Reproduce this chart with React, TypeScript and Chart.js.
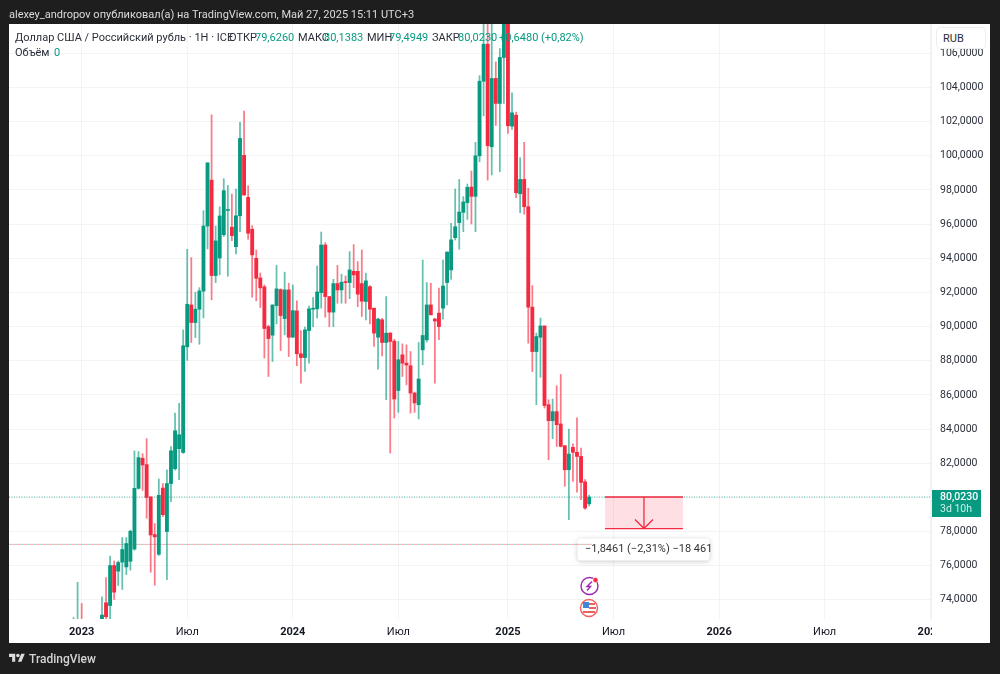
import React, { useEffect, useRef } from 'react';
import { Chart, registerables } from 'chart.js';

Chart.register(...registerables);

// weekly candles, week 0 is the first bar of 2023
const firstWeek = -2;
const opens = [71.9,72.3,70.5,70.2,69,68.9,70,72.1,73.83,73.67,76.01,75.68,76.21,75.93,76.26,76.98,80.53,82.29,81.92,80.03,77.82,76.67,80.55,78,80.81,81.68,82.85,82.63,88.82,91.27,90.24,91.02,92.08,95.89,98.58,92.99,94.02,95.38,96.8,95.82,94.68,96.49,100.03,97.57,95.7,94,92.85,92.33,90,89.5,91.23,92.17,90.47,92.15,89.38,90.92,88.41,88.19,89.77,91.02,91.04,91.99,94.78,91.76,90.85,92.52,92.15,92.62,92.58,93.24,93.24,92.52,91.47,92.34,91.08,89.38,90.4,89.07,89.62,89.15,86.26,88.35,87.86,87.71,86.11,85.43,88.64,89.23,91.27,90.45,90.79,91.08,92.58,93.32,95.21,96.09,96.69,97.26,98.17,97.63,100,104.37,106.54,100.53,104.53,103.07,105.76,109,101.74,102.38,97.78,98.62,97.02,91.14,88.54,89.38,90.04,85.43,84.49,85.02,84.3,83.03,81.62,82.93,82.64,82.4,80.91,79.626];
const highs = [72.97,75.03,73.79,70.9,69.6,70.5,72.3,74.18,75.31,76.56,76.28,76.28,77.65,77.65,78.08,82.72,82.68,82.56,83.44,80.03,78.47,81.08,80.81,81.62,82.98,84.94,85.51,89.81,94.53,94.04,92.01,92.28,96.79,99.59,102.4,95.89,97.02,98.66,98.27,97.76,98.06,101.96,102.62,98.25,95.91,94.49,93.14,92.44,90.08,91.27,93.59,92.21,93.19,92.54,92.44,91.51,89.77,89.97,91.21,91.7,93.55,95.54,94.92,91.76,92.77,93.59,93.07,92.97,94.39,94.8,93.81,94.49,93.13,92.4,91.08,90.5,90.48,91.76,89.66,89.26,89.13,88.99,88.93,88.54,86.17,89.07,93.9,92.58,92.54,90.48,92.25,93.9,94.37,96.05,98.06,98.62,97.61,98.35,99.11,100.79,104.7,108.5,108.5,108.3,105.5,106.28,112,113,103.69,102.56,99.89,100.79,98.1,92.4,89.62,90.5,90.04,85.72,85.76,86.54,87.2,83.03,84,83.13,84.66,82.89,81.04,80.1383];
const lows = [71.5,71.8,69.5,68.5,68,68.5,69.8,71.9,72.8,72.8,74.02,74.84,74.61,75.48,75.74,76.9,80.48,80.41,78.78,75.62,74.86,76.6,78.88,75.18,79.75,81.6,81.04,82.58,88.02,89.07,89.36,88.97,90.51,94.55,91.57,92.58,93.03,95.28,92.95,95.03,94.26,95.56,97.68,95.11,91.72,91.51,91.12,88.16,87.08,87.96,90.16,88.6,89.52,88.25,89.38,87.71,86.69,87.37,87.86,90,90.5,91.08,90.55,90,90,91.37,91.37,91.37,91.64,92.28,91.17,90.59,90.39,90.16,88.84,87.51,88.29,85.72,82.6,84.65,84.98,87.08,86.59,84.94,84.98,84.59,87.76,89.1,90.69,86.69,89.23,90.44,91.27,92.77,95.07,94.53,95.56,96.28,96.01,95.56,99.65,102.34,98.58,98.88,101.78,99.07,103.07,101.31,101.55,97.55,96.67,96.58,89.03,87.37,85.43,87.03,85.23,82.21,83.44,82.98,82.95,80.65,78.7,80.94,80.3,79.87,79.3,79.4949];
const closes = [72.3,72.6,70.2,69,68.9,70,72.1,73.11,73.01,76.01,74.45,76.19,76.95,77.3,78.02,80.53,82.33,81.9,80,77.8,77.69,80.12,78.99,80.81,82.73,83.9,83.67,88.88,91.31,90.24,91.02,92.09,95.89,99.59,92.99,95.02,96.48,97.96,96.86,95.33,96.49,101.02,97.71,95.47,94.2,92.83,92.27,89.89,89.3,91.27,92.21,90.65,92.15,89.38,90.94,88.41,88.19,89.81,91.04,91.06,92.03,94.78,91.76,90.85,92.52,92.15,92.6,92.58,93.32,93.03,91.9,91.49,92.68,91.02,89.62,90.44,89.07,89.62,89.13,85.76,88.06,87.86,87.75,86.11,85.53,86.93,89.48,91.27,90.69,90.33,90,92.38,94.37,95.08,95.85,96.71,97.3,98.16,97.63,100,104.37,106.54,100.59,104.53,103.07,105.76,109,101.76,102.52,97.84,98.62,97.02,91.14,88.54,89.42,90.04,85.38,84.49,85.02,84.26,82.99,81.62,82.54,82.64,82.4,80.88,79.38,80.023];

const yTicks = [74,76,78,80,82,84,86,88,90,92,94,96,98,100,102,104,106];
const xTickWeeks = [0,26,52,78,105,131,157,183,209];
const xTickLabels = ['2023','Июл','2024','Июл','2025','Июл','2026','Июл','2027'];
const yearLabels = ['2023','2024','2025','2026','2027'];

const lastClose = 80.023;
const prevLevel = 77.25;
const toolTop = 80.023;
const toolBottom = 78.1769;
const toolFromWeek = 128.9;
const toolToWeek = 148.1;

const GREEN = '#089A80';
const RED = '#F52A40';
const GREEN_WICK = 'rgba(8,154,128,0.62)';
const RED_WICK = 'rgba(245,42,64,0.62)';
const FONT = 'Roboto, sans-serif';

const xMin = -17.9;
const xMax = 209.2;

const candleIdx = opens.map((_, i) => i);

const measureTool = {
  id: 'measureTool',
  beforeDatasetsDraw(chart: any) {
    // tooltip box of the measure, the dashed level runs over it
    const c = chart.ctx;
    c.save();
    c.shadowColor = 'rgba(0,0,0,0.22)';
    c.shadowBlur = 5;
    c.shadowOffsetY = 1;
    c.fillStyle = '#fff';
    c.beginPath();
    c.roundRect(577.5, 538.5, 132, 22, 4);
    c.fill();
    c.restore();
    c.save();
    c.fillStyle = '#333';
    c.font = '11px ' + FONT;
    c.textBaseline = 'middle';
    c.fillText('−1,8461 (−2,31%) −18 461', 585, 549.5);
    c.restore();
  },
  afterDatasetsDraw(chart: any) {
    const { ctx: c, scales } = chart;
    const x0 = scales.x.getPixelForValue(toolFromWeek);
    const x1 = scales.x.getPixelForValue(toolToWeek);
    const y0 = scales.y.getPixelForValue(toolTop);
    const y1 = scales.y.getPixelForValue(toolBottom);
    const xc = (x0 + x1) / 2;
    c.save();
    c.fillStyle = 'rgba(245,42,64,0.15)';
    c.fillRect(x0, y0, x1 - x0, y1 - y0);
    c.strokeStyle = RED;
    c.lineWidth = 1.3;
    c.beginPath();
    c.moveTo(x0, y0);
    c.lineTo(x1, y0);
    c.moveTo(x0, y1);
    c.lineTo(x1, y1);
    c.moveTo(xc, y0);
    c.lineTo(xc, y1);
    c.moveTo(xc - 9, y1 - 9);
    c.lineTo(xc, y1);
    c.lineTo(xc + 9, y1 - 9);
    c.stroke();
    c.restore();
  },
  afterDraw(chart: any) {
    // the last year label is cut by the price scale
    const c = chart.ctx;
    c.save();
    c.fillStyle = '#fff';
    c.fillRect(932, 620, 58, 23);
    c.restore();
  },
};

function Txt({ x, y, color = '#2a2e39', size = 11, bold, children }: any) {
  return (
    <div
      style={{
        position: 'absolute',
        left: x,
        top: y,
        transform: 'translateY(-50%)',
        color,
        fontSize: size,
        fontFamily: FONT,
        fontWeight: bold ? 500 : 400,
        whiteSpace: 'nowrap',
        lineHeight: 1,
      }}
    >
      {children}
    </div>
  );
}

export default function App() {
  const ref = useRef<HTMLCanvasElement>(null);

  useEffect(() => {
    document.body.style.margin = '0';
    const chart = new Chart(ref.current as HTMLCanvasElement, {
      type: 'bar',
      plugins: [measureTool],
      data: {
        datasets: [
          {
            type: 'line',
            data: [{ x: xMin, y: lastClose }, { x: xMax, y: lastClose }],
            borderColor: 'rgba(8,154,128,0.65)',
            borderWidth: 1,
            borderDash: [1, 1.5],
            pointRadius: 0,
            order: 5,
          },
          {
            type: 'line',
            data: [{ x: xMin, y: prevLevel }, { x: 125.7, y: prevLevel }],
            borderColor: 'rgba(245,42,64,0.4)',
            borderWidth: 1,
            borderDash: [3, 3],
            borderDashOffset: 3,
            pointRadius: 0,
            order: 5,
          },
          {
            type: 'line',
            data: [{ x: xMin, y: prevLevel }, { x: 125.7, y: prevLevel }],
            borderColor: 'rgba(8,154,128,0.4)',
            borderWidth: 1,
            borderDash: [3, 3],
            pointRadius: 0,
            order: 5,
          },
          {
            // wicks
            data: candleIdx.map((i) => ({ x: firstWeek + i, y: [lows[i], highs[i]] })),
            backgroundColor: candleIdx.map((i) => (closes[i] >= opens[i] ? GREEN_WICK : RED_WICK)),
            barThickness: 1.1,
            grouped: false,
            order: 2,
          },
          {
            // bodies
            data: candleIdx.map((i) => ({ x: firstWeek + i, y: [opens[i], closes[i]] })),
            backgroundColor: candleIdx.map((i) => (closes[i] >= opens[i] ? GREEN : RED)),
            barThickness: 3.2,
            minBarLength: 1,
            grouped: false,
            order: 1,
          },
        ],
      } as any,
      options: {
        animation: false,
        responsive: false,
        layout: { padding: { left: 9, right: 10, top: 24, bottom: 31 } },
        plugins: {
          legend: { display: false },
          tooltip: { enabled: false },
          title: { display: false },
        },
        scales: {
          x: {
            type: 'linear',
            min: xMin,
            max: xMax,
            offset: false,
            afterFit: (s: any) => {
              s.height = 24;
            },
            afterBuildTicks: (s: any) => {
              s.ticks = xTickWeeks.map((value) => ({ value }));
            },
            grid: { color: '#f3f3f4', offset: false, drawTicks: false },
            border: { display: false },
            ticks: {
              autoSkip: false,
              maxRotation: 0,
              padding: 7,
              color: '#131722',
              font: (ctx: any) => {
                const label = xTickLabels[xTickWeeks.indexOf(ctx.tick?.value)];
                return { family: FONT, size: 11, weight: yearLabels.includes(label) ? 'bold' : 'normal' };
              },
              callback: (v: any) => xTickLabels[xTickWeeks.indexOf(v)],
            },
          },
          y: {
            type: 'linear',
            position: 'right',
            min: 72.88,
            max: 107.72,
            beginAtZero: false,
            afterFit: (s: any) => {
              s.width = 59;
            },
            afterBuildTicks: (s: any) => {
              s.ticks = yTicks.map((value) => ({ value }));
            },
            grid: { color: '#f3f3f4', drawTicks: false },
            border: { color: '#f0f0f2' },
            ticks: {
              padding: 9,
              color: '#2a2e39',
              font: { family: FONT, size: 10.5 },
              callback: (v: any) => Number(v).toFixed(4).replace('.', ','),
            },
          },
        },
      } as any,
    });

    return () => {
      chart.destroy();
    };
  }, []);

  return (
    <div style={{ position: 'fixed', inset: 0, background: '#1e1e1e', overflow: 'hidden' }}>
      <div style={{ position: 'absolute', left: 9, top: 24, width: 981, height: 619, background: '#fff' }} />
      <canvas ref={ref} width={1000} height={674} style={{ position: 'absolute', left: 0, top: 0 }} />

      <Txt x={9} y={14} color="#dcdcdc" size={11}>
        alexey_andropov опубликовал(а) на TradingView.com, Май 27, 2025 15:11 UTC+3
      </Txt>

      <Txt x={15} y={37}>Доллар США / Российский рубль · 1Н · ICE</Txt>
      <Txt x={229} y={37}>ОТКР</Txt>
      <Txt x={255} y={37} color={GREEN}>79,6260</Txt>
      <Txt x={298} y={37}>МАКС</Txt>
      <Txt x={324} y={37} color={GREEN}>80,1383</Txt>
      <Txt x={367} y={37}>МИН</Txt>
      <Txt x={389} y={37} color={GREEN}>79,4949</Txt>
      <Txt x={432} y={37}>ЗАКР</Txt>
      <Txt x={458} y={37} color={GREEN}>80,0230</Txt>
      <Txt x={499} y={37} color={GREEN}>+0,6480 (+0,82%)</Txt>
      <Txt x={15} y={52}>Объём</Txt>
      <Txt x={54} y={52} color={GREEN}>0</Txt>

      <div
        style={{
          position: 'absolute',
          left: 936,
          top: 27,
          width: 50,
          height: 22,
          boxSizing: 'border-box',
          background: '#fff',
          border: '1px solid #eeeeee',
          borderRadius: 4,
        }}
      />
      <Txt x={943} y={38}>RUB</Txt>

      <div style={{ position: 'absolute', left: 932, top: 490, width: 49, height: 27, background: GREEN }} />
      <Txt x={940} y={497} color="#fff" size={10.5} bold>80,0230</Txt>
      <Txt x={940} y={509} color="#cfeee7" size={10.5}>3d 10h</Txt>

      <svg style={{ position: 'absolute', left: 578, top: 574 }} width={24} height={46} viewBox="0 0 24 46">
        <circle cx={11.5} cy={12} r={8.5} fill="#fff" stroke="#9c27b0" strokeWidth={1.4} />
        <path d="M14 7.5 L9 12.5 H12.5 L9 16.5" fill="none" stroke="#9c27b0" strokeWidth={1.4} />
        <circle cx={17.5} cy={6} r={2.6} fill="#f52a40" stroke="#fff" strokeWidth={0.6} />
        <circle cx={11} cy={34} r={8.5} fill="#fff" stroke="#f0605f" strokeWidth={1.4} />
        <rect x={5} y={28} width={6} height={6} fill="#3f86d8" />
        <rect x={11} y={29} width={6} height={2} fill="#e8605f" />
        <rect x={11} y={33} width={7} height={2} fill="#e8605f" />
        <rect x={5} y={37} width={12} height={2} fill="#e8605f" />
      </svg>

      <svg style={{ position: 'absolute', left: 9, top: 652 }} width={16} height={12.5} viewBox="0 0 36 28" fill="#dcdcdc">
        <path d="M14 22H7V11H0V4h14v18zM28 22h-8l7.5-18h8L28 22z" />
        <circle cx={20} cy={8} r={4} />
      </svg>
      <Txt x={29} y={659} color="#d4d4d4" size={12} bold>TradingView</Txt>
    </div>
  );
}
